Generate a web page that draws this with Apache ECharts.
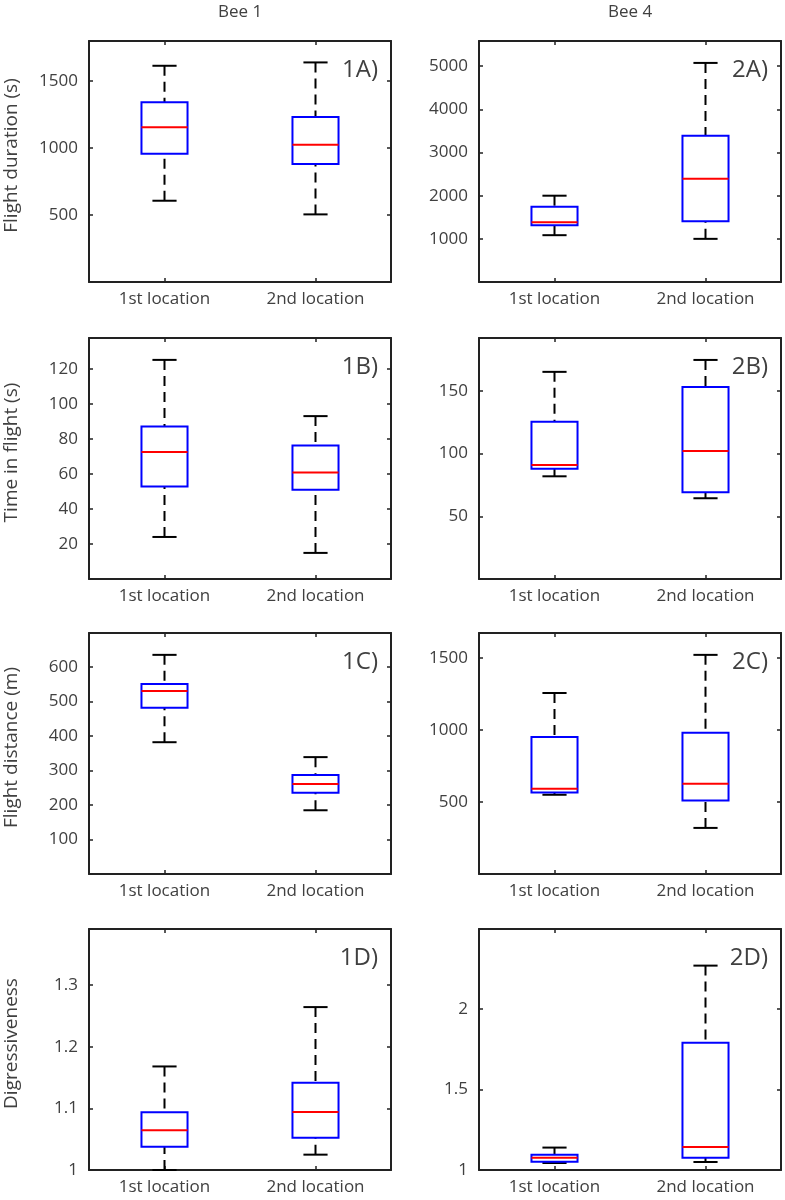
<!DOCTYPE html>
<html><head><meta charset="utf-8">
<script src="https://cdn.jsdelivr.net/npm/echarts@6/dist/echarts.min.js"></script>
<style>html,body{margin:0;padding:0;background:#fff}#c{width:785px;height:1200px}</style>
</head><body><div id="c"></div>
<script>
const categories = ['1st location', '2nd location'];
const columnTitles = ['Bee 1', 'Bee 4'];
const yNames = ['Flight duration (s)', 'Time in flight (s)', 'Flight distance (m)', 'Digressiveness'];
const panelLabels = [['1A)', '2A)'], ['1B)', '2B)'], ['1C)', '2C)'], ['1D)', '2D)']];

// each box: [lower whisker, Q1, median, Q3, upper whisker]
const bee1Duration = [[607, 957, 1155, 1342, 1615], [505, 882, 1025, 1232, 1640]];
const bee4Duration = [[1085, 1317, 1387, 1745, 2000], [1000, 1410, 2394, 3387, 5077]];
const bee1TimeInFlight = [[24, 52.8, 72.5, 87, 125.1], [14.9, 50.9, 60.8, 76.2, 93]];
const bee4TimeInFlight = [[81.9, 88, 91, 125.5, 165.2], [64.4, 69.1, 102.1, 153.2, 174.7]];
const bee1Distance = [[381.7, 481.7, 530, 550, 634.7], [184.6, 235.6, 260.5, 286.5, 338.5]];
const bee4Distance = [[550.7, 566.8, 592, 951.6, 1258], [320.3, 511.5, 626.7, 981.6, 1523]];
const bee1Digressiveness = [[1.0, 1.0378, 1.0643, 1.0935, 1.168], [1.0249, 1.0524, 1.094, 1.1417, 1.2643]];
const bee4Digressiveness = [[1.0435, 1.0518, 1.0766, 1.095, 1.139], [1.0497, 1.0766, 1.143, 1.789, 2.267]];

const yMin = [[0, 0], [0, 0], [0, 0], [1, 1]];
const yMax = [[1800, 5585], [137.6, 192.2], [698, 1675], [1.391, 2.494]];
const yInterval = [[500, 1000], [20, 50], [100, 500], [0.1, 0.5]];
const yTickLabels = [
  [[500, 1000, 1500], [1000, 2000, 3000, 4000, 5000]],
  [[20, 40, 60, 80, 100, 120], [50, 100, 150]],
  [[100, 200, 300, 400, 500, 600], [500, 1000, 1500]],
  [[1, 1.1, 1.2, 1.3], [1, 1.5, 2]]
];

const panelData = [
  [bee1Duration, bee4Duration],
  [bee1TimeInFlight, bee4TimeInFlight],
  [bee1Distance, bee4Distance],
  [bee1Digressiveness, bee4Digressiveness]
];

// layout
const colLeft = [89, 479];
const plotW = 302;
const rowTop = [41, 338, 633, 929];
const plotH = 241;
const FONT = 'Open Sans';
const TXT = '#404040';
const FRAME = '#222222';

function renderBox(params, api) {
  const x = api.value(0);
  const lo = api.coord([x, api.value(1)]);
  const q1 = api.coord([x, api.value(2)]);
  const md = api.coord([x, api.value(3)]);
  const q3 = api.coord([x, api.value(4)]);
  const hi = api.coord([x, api.value(5)]);
  const band = api.size([1, 0])[0];
  const bw = band * 0.305 / 2;
  const cw = band * 0.16 / 2;
  const cx = lo[0];
  const black = { stroke: '#000', lineWidth: 2 };
  const dashed = { stroke: '#000', lineWidth: 2, lineDash: [10, 6] };
  return {
    type: 'group',
    children: [
      { type: 'line', shape: { x1: cx, y1: hi[1], x2: cx, y2: q3[1] }, style: dashed },
      { type: 'line', shape: { x1: cx, y1: lo[1], x2: cx, y2: q1[1] }, style: dashed },
      { type: 'line', shape: { x1: cx - cw, y1: hi[1], x2: cx + cw, y2: hi[1] }, style: black },
      { type: 'line', shape: { x1: cx - cw, y1: lo[1], x2: cx + cw, y2: lo[1] }, style: black },
      { type: 'rect', shape: { x: cx - bw, y: q3[1], width: 2 * bw, height: q1[1] - q3[1] },
        style: { fill: '#fff', stroke: '#0000ff', lineWidth: 2 } },
      { type: 'line', shape: { x1: cx - bw, y1: md[1], x2: cx + bw, y2: md[1] },
        style: { stroke: '#ff0000', lineWidth: 2 } }
    ]
  };
}

const grids = [], xAxes = [], yAxes = [], series = [], graphics = [];
let gi = 0;
for (let r = 0; r < 4; r++) {
  for (let c = 0; c < 2; c++) {
    grids.push({ left: colLeft[c], top: rowTop[r], width: plotW, height: plotH, containLabel: false });
    const tickLine = { show: true, inside: true, length: 4, alignWithLabel: true, lineStyle: { color: FRAME, width: 1.5 } };
    const axLine = { show: true, onZero: false, lineStyle: { color: FRAME, width: 2 } };
    xAxes.push({
      type: 'category', gridIndex: gi, data: categories, position: 'bottom',
      axisLine: axLine, axisTick: tickLine,
      axisLabel: { color: TXT, fontFamily: FONT, fontSize: 17, margin: 9 },
      splitLine: { show: false }
    });
    xAxes.push({
      type: 'category', gridIndex: gi, data: categories, position: 'top',
      axisLine: axLine, axisTick: tickLine, axisLabel: { show: false }, splitLine: { show: false }
    });
    const ticks = yTickLabels[r][c];
    const yTick = { show: true, inside: true, length: 4, lineStyle: { color: FRAME, width: 1.5 } };
    const yBase = { type: 'value', gridIndex: gi, min: yMin[r][c], max: yMax[r][c], interval: yInterval[r][c],
      splitLine: { show: false }, axisLine: axLine, axisTick: yTick };
    const leftAxis = Object.assign({}, yBase, {
      position: 'left',
      axisLabel: {
        color: TXT, fontFamily: FONT, fontSize: 17, margin: 11,
        showMinLabel: true, showMaxLabel: true,
        formatter: function (v) {
          const t = ticks.find(function (tv) { return Math.abs(tv - v) < 1e-7; });
          return t === undefined ? '' : String(t);
        }
      }
    });
    if (c === 0) {
      Object.assign(leftAxis, {
        name: yNames[r], nameLocation: 'middle', nameGap: 68, nameRotate: 90,
        nameTextStyle: { color: TXT, fontFamily: FONT, fontSize: 19, padding: [0, 0, 0, 12] }
      });
    }
    yAxes.push(leftAxis);
    yAxes.push(Object.assign({}, yBase, { position: 'right', axisLabel: { show: false } }));
    series.push({
      type: 'custom', xAxisIndex: 2 * gi, yAxisIndex: 2 * gi,
      renderItem: renderBox,
      encode: { x: 0, y: [1, 2, 3, 4, 5] },
      data: panelData[r][c].map(function (b, i) { return [i].concat(b); }),
      silent: true, z: 2
    });
    graphics.push({
      type: 'text', x: colLeft[c] + plotW - 13, y: rowTop[r] + 29, z: 10,
      style: { text: panelLabels[r][c], fill: TXT, font: '24px "Open Sans"', textAlign: 'right', textVerticalAlign: 'middle' }
    });
    gi++;
  }
}
for (let c = 0; c < 2; c++) {
  graphics.push({
    type: 'text', x: colLeft[c] + plotW / 2, y: 12,
    style: { text: columnTitles[c], fill: TXT, font: '17px "Open Sans"', textAlign: 'center', textVerticalAlign: 'middle' }
  });
}

const chart = echarts.init(document.getElementById('c'), null, { renderer: 'canvas' });
chart.setOption({
  animation: false,
  backgroundColor: '#ffffff',
  grid: grids, xAxis: xAxes, yAxis: yAxes, series: series, graphic: graphics
});
</script></body></html>
